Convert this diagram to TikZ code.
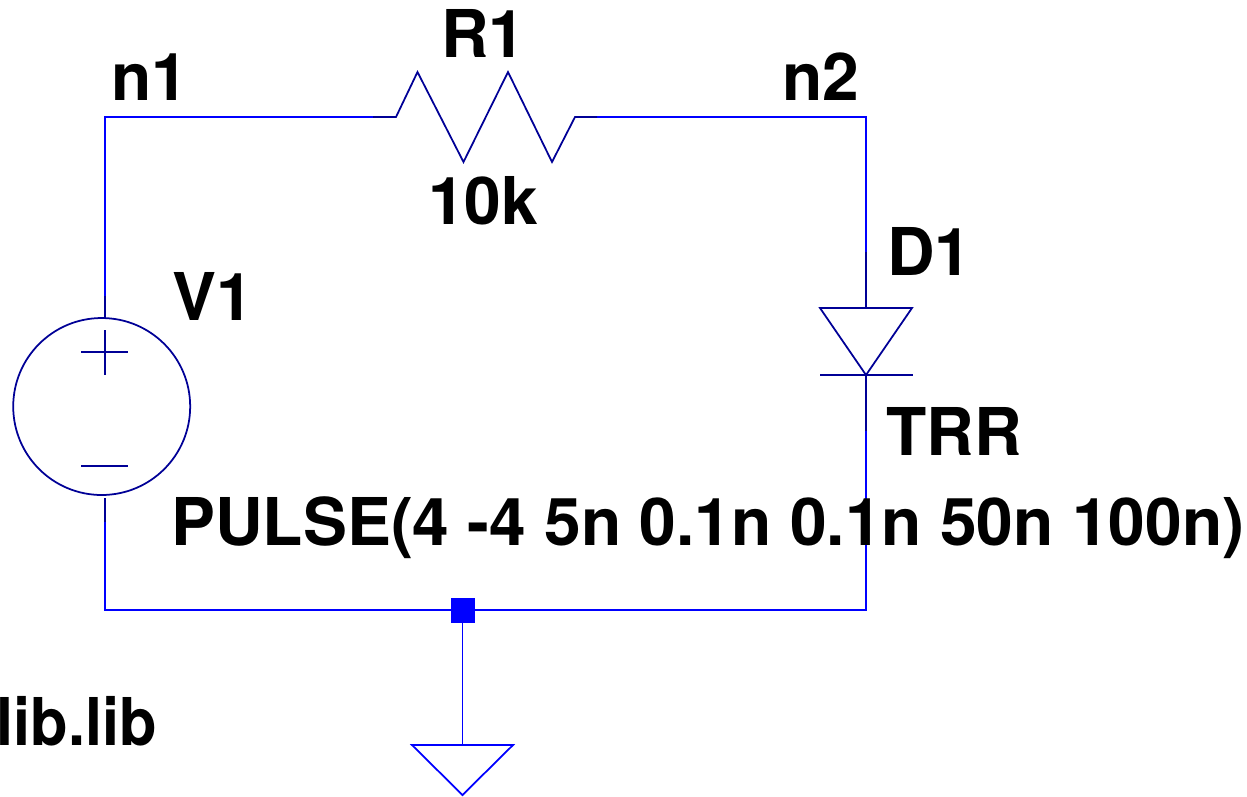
\documentclass[tikz,border=0pt]{standalone}
\usepackage{fontspec}
\usepackage{xcolor}
\setmainfont{TeX Gyre Heros}
\definecolor{wireblue}{RGB}{0,0,255}
\definecolor{symblue}{RGB}{0,0,150}
\begin{document}
\begin{tikzpicture}[x=0.02cm,y=-0.02cm]
	\tikzstyle{wire} = [draw=wireblue, line width=1pt]
	\tikzstyle{symb} = [draw=symblue, line width=1pt]
	\tikzstyle{txt} = [anchor=base west, inner sep=0pt, font=\fontsize{37.5}{40}\selectfont\bfseries]
	\useasboundingbox (0,0) rectangle (1247,796);
	% corners and pin ends
		\coordinate (tl) at (105,117);
		\coordinate (tr) at (866,117);
		\coordinate (bl) at (105,610);
		\coordinate (br) at (866,610);
		\coordinate (va) at (105,296);
		\coordinate (vb) at (105,318);
		\coordinate (vc) at (105,498);
		\coordinate (vd) at (105,522);
		\coordinate (ra) at (373,117);
		\coordinate (rb) at (396,117);
		\coordinate (rc) at (417.5,72);
		\coordinate (rd) at (463.5,162);
		\coordinate (re) at (508,72);
		\coordinate (rf) at (552,162);
		\coordinate (rg) at (575,117);
		\coordinate (rh) at (597,117);
		\coordinate (da) at (866,252);
		\coordinate (db) at (866,308);
		\coordinate (dc) at (820,308);
		\coordinate (dd) at (912,308);
		\coordinate (de) at (866,375);
		\coordinate (df) at (820,375);
		\coordinate (dg) at (913,375);
		\coordinate (dh) at (866,431);
		\coordinate (ga) at (462.5,745);
		\coordinate (gb) at (412,745);
		\coordinate (gc) at (513,745);
		\coordinate (gd) at (462.5,795);
		\coordinate (pa) at (81,352);
		\coordinate (pb) at (128,352);
		\coordinate (pc) at (105,330);
		\coordinate (pd) at (105,375);
		\coordinate (ma) at (81,466);
		\coordinate (mb) at (128,466);
	% symbols
		\node[symb, circle, minimum size=3.54cm, inner sep=0pt, outer sep=0pt] (v1) at (101.7,406.5) {};
		\node[fill=wireblue, minimum width=0.48cm, minimum height=0.5cm, inner sep=0pt] (j) at (462.5,610.5) {};
	\draw[wire] (va) -- (tl) -- (ra);
	\draw[wire] (rh) -- (tr) -- (da);
	\draw[wire] (dh) -- (br) -- (bl) -- (vd);
	\draw[wire] (j) -- (ga);
	\draw[wire] (gb) -- (gc) -- (gd) -- cycle;
	\draw[symb] (va) -- (vb);
	\draw[symb] (vc) -- (vd);
	\draw[symb] (pa) -- (pb);
	\draw[symb] (pc) -- (pd);
	\draw[symb] (ma) -- (mb);
	\draw[symb] (ra) -- (rb) -- (rc) -- (rd) -- (re) -- (rf) -- (rg) -- (rh);
	\draw[symb] (da) -- (db);
	\draw[symb] (dc) -- (dd) -- (de) -- cycle;
	\draw[symb] (df) -- (dg);
	\draw[symb] (de) -- (dh);
	% texts
		\node[txt] (n1) at (111,100) {n1};
		\node[txt] (n2) at (782,100) {n2};
		\node[txt] (r1) at (441,57) {R1};
		\node[txt] (r1v) at (428,224) {10k};
		\node[txt] (v1t) at (172,320) {V1};
		\node[txt] (d1) at (887,275) {D1};
		\node[txt] (d1t) at (886,455) {TRR};
		\node[txt] (v1v) at (171,545) {PULSE(4 -4 5n 0.1n 0.1n 50n 100n)};
		\node[txt, anchor=base east] (lib) at (157,745) {\addfontfeature{FakeStretch=0.93}lib.lib};
\end{tikzpicture}
\end{document}
